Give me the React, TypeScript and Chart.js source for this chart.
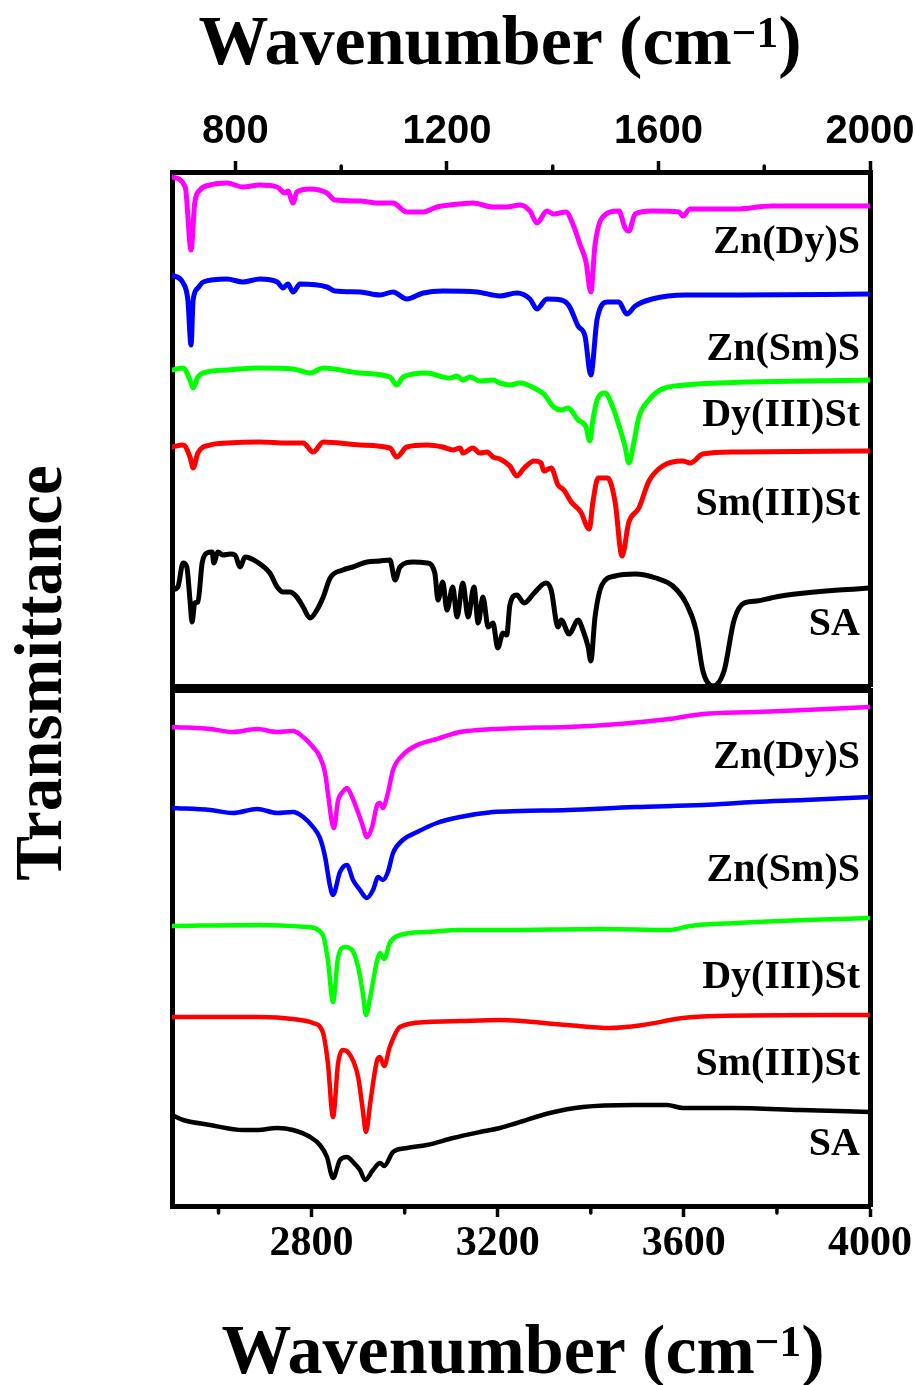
import React, { useEffect, useRef } from 'react';
import { Chart, registerables } from 'chart.js';

Chart.register(...registerables);

// ---------- series meta ----------
const SERIES_NAMES = ['Zn(Dy)S', 'Zn(Sm)S', 'Dy(III)St', 'Sm(III)St', 'SA'];
const SERIES_COLORS = ['#ff00ff', '#0000ff', '#00ff00', '#ff0000', '#000000'];

// ---------- axes ----------
const TOP_RANGE = [680, 2000];
const TOP_MAJOR_TICKS = [800, 1200, 1600, 2000];
const TOP_MINOR_TICKS = [1000, 1400, 1800];
const BOTTOM_RANGE = [2500, 4000];
const BOTTOM_MAJOR_TICKS = [2800, 3200, 3600, 4000];
const BOTTOM_MINOR_TICKS = [2600, 3000, 3400, 3800];

// ---------- top panel (fingerprint region), offset transmittance, a.u. ----------
const topZnDyS_x = [680, 705, 716, 723, 733, 752, 784, 814, 846, 879, 894, 899, 909, 916, 941, 973, 988, 1036, 1068, 1098, 1124, 1155, 1181, 1206, 1249, 1287, 1313, 1338, 1357, 1370, 1389, 1402, 1425, 1438, 1452, 1463, 1472, 1480, 1493, 1525, 1537, 1544, 1556, 1588, 1639, 1646, 1660, 1748, 1813, 2000];
const topZnDyS_y = [511, 501, 438, 485, 498, 503, 505, 501, 503, 501, 495, 497, 485, 496, 499, 495, 488, 487, 485, 485, 476, 476, 481, 483, 485, 481, 481, 483, 477, 465, 477, 474, 476, 464, 443, 426, 396, 443, 470, 477, 460, 457, 474, 477, 476, 472, 479, 479, 482, 482];

const topZnSmS_x = [680, 701, 710, 716, 720, 729, 739, 784, 814, 846, 879, 890, 899, 909, 922, 973, 988, 1036, 1073, 1098, 1124, 1155, 1192, 1257, 1300, 1332, 1357, 1370, 1389, 1416, 1431, 1448, 1461, 1472, 1484, 1504, 1525, 1540, 1556, 1588, 1652, 1748, 2000];
const topZnSmS_y = [413, 405, 388, 343, 388, 400, 406, 409, 406, 409, 406, 400, 404, 396, 404, 401, 397, 396, 393, 396, 389, 395, 397, 396, 392, 395, 389, 379, 389, 388, 382, 362, 352, 313, 369, 386, 386, 374, 382, 389, 393, 393, 394];

const topDySt_x = [680, 701, 714, 720, 729, 746, 784, 846, 909, 941, 966, 1036, 1092, 1105, 1117, 1162, 1192, 1206, 1219, 1230, 1244, 1262, 1287, 1300, 1319, 1338, 1365, 1383, 1402, 1416, 1429, 1448, 1463, 1470, 1476, 1484, 1499, 1512, 1525, 1537, 1544, 1554, 1563, 1582, 1603, 1652, 1716, 2000];
const topDySt_y = [318, 320, 308, 300, 311, 316, 318, 320, 319, 315, 320, 315, 311, 303, 311, 315, 311, 310, 312, 308, 311, 307, 308, 305, 303, 305, 300, 294, 281, 278, 280, 268, 261, 247, 268, 288, 295, 283, 263, 241, 225, 247, 271, 288, 298, 303, 305, 308];

const topSmSt_x = [680, 701, 714, 720, 729, 752, 784, 846, 897, 928, 947, 966, 1036, 1092, 1105, 1124, 1162, 1192, 1211, 1225, 1230, 1249, 1262, 1276, 1287, 1300, 1319, 1332, 1346, 1365, 1378, 1383, 1397, 1410, 1421, 1435, 1453, 1469, 1476, 1486, 1504, 1518, 1531, 1544, 1563, 1582, 1608, 1646, 1660, 1684, 1748, 2000];
const topSmSt_y = [241, 243, 231, 220, 235, 243, 245, 246, 245, 245, 236, 246, 243, 240, 231, 241, 243, 241, 238, 240, 235, 240, 235, 236, 231, 229, 222, 212, 220, 227, 225, 217, 220, 203, 198, 186, 176, 159, 186, 210, 210, 186, 132, 166, 180, 207, 222, 227, 225, 234, 236, 237];

const topSA_x = [680, 691, 701, 708, 714, 718, 723, 729, 737, 746, 756, 759, 767, 776, 790, 799, 809, 818, 841, 865, 879, 890, 903, 916, 928, 941, 954, 966, 979, 1003, 1022, 1049, 1073, 1092, 1102, 1111, 1136, 1162, 1177, 1183, 1192, 1200, 1211, 1219, 1230, 1240, 1251, 1259, 1268, 1278, 1287, 1296, 1306, 1313, 1319, 1332, 1346, 1365, 1387, 1397, 1410, 1416, 1431, 1448, 1457, 1467, 1472, 1480, 1493, 1518, 1556, 1595, 1627, 1652, 1671, 1684, 1703, 1724, 1743, 1762, 1786, 1813, 1832, 1877, 1941, 2000];
const topSA_y = [98, 101, 125, 121, 88, 66, 85, 86, 125, 135, 136, 125, 136, 133, 134, 133, 121, 131, 126, 115, 101, 96, 96, 91, 81, 70, 78, 91, 110, 118, 121, 126, 127, 128, 108, 121, 126, 125, 115, 88, 106, 78, 101, 71, 105, 71, 101, 65, 91, 61, 65, 40, 55, 53, 83, 93, 85, 95, 105, 98, 61, 68, 54, 68, 58, 41, 27, 71, 103, 112, 114, 110, 102, 85, 58, 17, 2, 17, 68, 85, 87, 90, 92, 95, 98, 100];

// ---------- bottom panel (C-H / O-H region), offset transmittance, a.u. ----------
const botZnDyS_x = [2500, 2582, 2631, 2683, 2726, 2760, 2782, 2803, 2818, 2829, 2835, 2844, 2848, 2857, 2865, 2876, 2887, 2898, 2908, 2919, 2930, 2941, 2947, 2953, 2964, 2975, 2996, 3027, 3069, 3082, 3119, 3190, 3248, 3351, 3461, 3568, 3641, 3751, 3860, 4000];
const botZnDyS_y = [479, 477, 474, 477, 474, 475, 469, 459, 449, 433, 413, 383, 378, 406, 413, 418, 409, 396, 383, 369, 379, 401, 403, 398, 413, 436, 451, 461, 467, 469, 474, 477, 478, 479, 482, 487, 492, 494, 496, 499];

const botZnSmS_x = [2500, 2582, 2631, 2683, 2726, 2760, 2782, 2803, 2818, 2829, 2840, 2846, 2861, 2876, 2889, 2904, 2919, 2932, 2943, 2953, 2964, 2975, 2996, 3027, 3069, 3119, 3190, 3248, 3351, 3495, 3641, 3751, 3860, 4000];
const botZnSmS_y = [398, 396, 393, 397, 393, 394, 389, 379, 368, 349, 319, 311, 334, 341, 326, 316, 308, 316, 329, 326, 334, 353, 366, 374, 383, 389, 394, 395, 396, 399, 401, 404, 406, 409];

const botDySt_x = [2500, 2689, 2790, 2824, 2835, 2846, 2857, 2872, 2887, 2900, 2910, 2917, 2926, 2941, 2947, 2956, 2968, 2990, 3048, 3119, 3205, 3424, 3568, 3613, 3714, 3860, 4000];
const botDySt_y = [280, 281, 279, 271, 246, 204, 249, 259, 256, 239, 213, 191, 209, 246, 253, 247, 263, 271, 274, 276, 276, 277, 276, 280, 283, 286, 288];

const botSmSt_x = [2500, 2618, 2689, 2760, 2803, 2824, 2835, 2846, 2857, 2867, 2878, 2900, 2910, 2917, 2926, 2941, 2947, 2956, 2968, 2990, 3048, 3119, 3205, 3349, 3441, 3512, 3598, 3671, 4000];
const botSmSt_y = [189, 189, 189, 187, 183, 174, 143, 89, 143, 156, 154, 129, 96, 74, 103, 146, 149, 140, 159, 179, 184, 185, 186, 181, 178, 181, 188, 190, 191];

const botSA_x = [2500, 2524, 2582, 2653, 2683, 2726, 2760, 2797, 2818, 2833, 2846, 2861, 2876, 2889, 2904, 2915, 2932, 2947, 2956, 2975, 3005, 3048, 3104, 3162, 3205, 3241, 3312, 3383, 3491, 3564, 3598, 3706, 3850, 4000];
const botSA_y = [91, 86, 81, 76, 76, 78, 76, 69, 61, 49, 28, 46, 49, 44, 36, 26, 36, 43, 40, 54, 58, 61, 68, 74, 78, 83, 93, 99, 101, 101, 98, 98, 96, 94];

// label anchors (in each panel's y units)
const TOP_LABEL_Y = [445, 338, 272, 183, 63];
const BOTTOM_LABEL_Y = [448, 335, 228, 141, 61];

const TOP_SERIES = [
  [topZnDyS_x, topZnDyS_y],
  [topZnSmS_x, topZnSmS_y],
  [topDySt_x, topDySt_y],
  [topSmSt_x, topSmSt_y],
  [topSA_x, topSA_y],
];
const BOTTOM_SERIES = [
  [botZnDyS_x, botZnDyS_y],
  [botZnSmS_x, botZnSmS_y],
  [botDySt_x, botDySt_y],
  [botSmSt_x, botSmSt_y],
  [botSA_x, botSA_y],
];

const SERIF = "'Liberation Serif', 'Times New Roman', Times, serif";
const SANS = "'Liberation Sans', Arial, Helvetica, sans-serif";

const seriesLabelPlugin = {
  id: 'seriesLabels',
  afterDatasetsDraw(chart: any, _args: any, opts: any) {
    const { ctx, chartArea, scales } = chart;
    ctx.save();
    ctx.font = `bold 40px ${SERIF}`;
    ctx.fillStyle = '#000';
    ctx.textAlign = 'right';
    ctx.textBaseline = 'middle';
    (opts.names || []).forEach((n: string, i: number) => {
      ctx.fillText(n, chartArea.right - 10, scales.y.getPixelForValue(opts.ys[i]));
    });
    ctx.restore();
  },
};

const minorTickPlugin = {
  id: 'minorTicks',
  afterDraw(chart: any, _args: any, opts: any) {
    const { ctx, chartArea } = chart;
    const scale = chart.scales[opts.axis];
    if (!scale) return;
    ctx.save();
    ctx.strokeStyle = '#000';
    ctx.lineWidth = 3.5;
    ctx.lineCap = 'round';
    (opts.values || []).forEach((v: number) => {
      const px = scale.getPixelForValue(v);
      ctx.beginPath();
      if (opts.side === 'top') {
        ctx.moveTo(px, chartArea.top - 2);
        ctx.lineTo(px, chartArea.top - 6);
      } else {
        ctx.moveTo(px, chartArea.bottom + 2);
        ctx.lineTo(px, chartArea.bottom + 7);
      }
      ctx.stroke();
    });
    ctx.restore();
  },
};

type PanelSpec = {
  series: number[][][];
  range: number[];
  major: number[];
  minor: number[];
  labelY: number[];
  yMin: number;
  yMax: number;
  axisSide: 'top' | 'bottom';
  axisSize: number;
  otherSize: number;
  lineWidth: number;
  tickFont: any;
  tickPadding: number;
  height: number;
};

function buildConfig(spec: PanelSpec): any {
  const datasets = spec.series.map((s, i) => ({
    label: SERIES_NAMES[i],
    data: s[0].map((x, j) => ({ x, y: s[1][j] })),
    borderColor: SERIES_COLORS[i],
    backgroundColor: SERIES_COLORS[i],
    borderWidth: spec.lineWidth,
    borderJoinStyle: 'round',
    borderCapStyle: 'round',
    pointRadius: 0,
    cubicInterpolationMode: 'monotone',
    fill: false,
    xAxisID: 'x',
    yAxisID: 'y',
  }));
  const otherSide = spec.axisSide === 'top' ? 'bottom' : 'top';
  return {
    type: 'line',
    data: { datasets },
    options: {
      responsive: false,
      maintainAspectRatio: false,
      animation: false,
      devicePixelRatio: 1,
      layout: { padding: 0 },
      plugins: {
        legend: { display: false },
        tooltip: { enabled: false },
        seriesLabels: { names: SERIES_NAMES, ys: spec.labelY },
        minorTicks: { axis: 'x', values: spec.minor, side: spec.axisSide },
      },
      scales: {
        x: {
          type: 'linear',
          position: spec.axisSide,
          min: spec.range[0],
          max: spec.range[1],
          afterBuildTicks: (scale: any) => {
            scale.ticks = spec.major.map((v) => ({ value: v }));
          },
          ticks: {
            color: '#000',
            font: spec.tickFont,
            padding: spec.tickPadding,
            maxRotation: 0,
            autoSkip: false,
            callback: (v: any) => String(v),
          },
          grid: { drawOnChartArea: false, drawTicks: true, tickLength: 11, tickWidth: 3.5, tickColor: '#000' },
          border: { display: true, width: 5, color: '#000' },
          afterFit: (scale: any) => {
            scale.height = spec.axisSize;
            scale.paddingLeft = 0;
            scale.paddingRight = 0;
          },
        },
        x2: {
          type: 'linear',
          position: otherSide,
          min: spec.range[0],
          max: spec.range[1],
          ticks: { display: false },
          grid: { display: false, drawTicks: false },
          border: { display: true, width: 5, color: '#000' },
          afterFit: (scale: any) => {
            scale.height = spec.otherSize;
            scale.paddingLeft = 0;
            scale.paddingRight = 0;
          },
        },
        y: {
          type: 'linear',
          position: 'left',
          min: spec.yMin,
          max: spec.yMax,
          ticks: { display: false },
          grid: { display: false, drawTicks: false },
          border: { display: true, width: 5, color: '#000' },
          afterFit: (scale: any) => {
            scale.width = 172;
          },
        },
        y2: {
          type: 'linear',
          position: 'right',
          min: spec.yMin,
          max: spec.yMax,
          ticks: { display: false },
          grid: { display: false, drawTicks: false },
          border: { display: true, width: 5, color: '#000' },
          afterFit: (scale: any) => {
            scale.width = 45;
          },
        },
      },
    },
    plugins: [seriesLabelPlugin, minorTickPlugin],
  };
}

function Panel({ spec, top }: { spec: PanelSpec; top: number }) {
  const ref = useRef<HTMLCanvasElement | null>(null);
  useEffect(() => {
    if (!ref.current) return;
    const chart = new Chart(ref.current, buildConfig(spec));
    return () => chart.destroy();
  }, []);
  return (
    <canvas
      ref={ref}
      width={915}
      height={spec.height}
      style={{ position: 'absolute', left: 0, top, width: 915, height: spec.height, display: 'block' }}
    />
  );
}

const TOP_SPEC: PanelSpec = {
  series: TOP_SERIES,
  range: TOP_RANGE,
  major: TOP_MAJOR_TICKS,
  minor: TOP_MINOR_TICKS,
  labelY: TOP_LABEL_Y,
  yMin: 2,
  yMax: 516,
  axisSide: 'top',
  axisSize: 172,
  otherSize: 14,
  lineWidth: 5,
  tickFont: { family: SANS, size: 40, weight: 'bold' },
  tickPadding: 5,
  height: 700,
};

const BOTTOM_SPEC: PanelSpec = {
  series: BOTTOM_SERIES,
  range: BOTTOM_RANGE,
  major: BOTTOM_MAJOR_TICKS,
  minor: BOTTOM_MINOR_TICKS,
  labelY: BOTTOM_LABEL_Y,
  yMin: 0,
  yMax: 516,
  axisSide: 'bottom',
  axisSize: 179,
  otherSize: 10,
  lineWidth: 4.5,
  tickFont: { family: SERIF, size: 42, weight: 'bold' },
  tickPadding: 2,
  height: 705,
};

const titleStyle: React.CSSProperties = {
  position: 'absolute',
  fontFamily: SERIF,
  fontWeight: 'bold',
  fontSize: 70,
  lineHeight: '70px',
  height: 70,
  whiteSpace: 'nowrap',
  textAlign: 'center',
  color: '#000',
};

const supStyle: React.CSSProperties = {
  fontSize: '0.62em',
  position: 'relative',
  top: '-0.4em',
  verticalAlign: 'baseline',
  lineHeight: 0,
};

function AxisTitle({ left, top, width }: { left: number; top: number; width: number }) {
  return (
    <div style={{ ...titleStyle, left, top, width }}>
      Wavenumber (cm<span style={supStyle}>−1</span>)
    </div>
  );
}

export default function App() {
  return (
    <div
      style={{
        position: 'absolute',
        left: 0,
        top: 0,
        width: 915,
        height: 1385,
        overflow: 'hidden',
        background: '#fff',
      }}
    >
      <Panel spec={TOP_SPEC} top={0} />
      <Panel spec={BOTTOM_SPEC} top={680} />
      <AxisTitle left={150} top={6} width={700} />
      <AxisTitle left={173} top={1315} width={700} />
      <div
        style={{
          position: 'absolute',
          left: 38 - 300,
          top: 673 - 35,
          width: 600,
          height: 70,
          lineHeight: '70px',
          fontFamily: SERIF,
          fontWeight: 'bold',
          fontSize: 67,
          textAlign: 'center',
          whiteSpace: 'nowrap',
          transform: 'rotate(-90deg)',
          color: '#000',
        }}
      >
        Transmittance
      </div>
    </div>
  );
}
